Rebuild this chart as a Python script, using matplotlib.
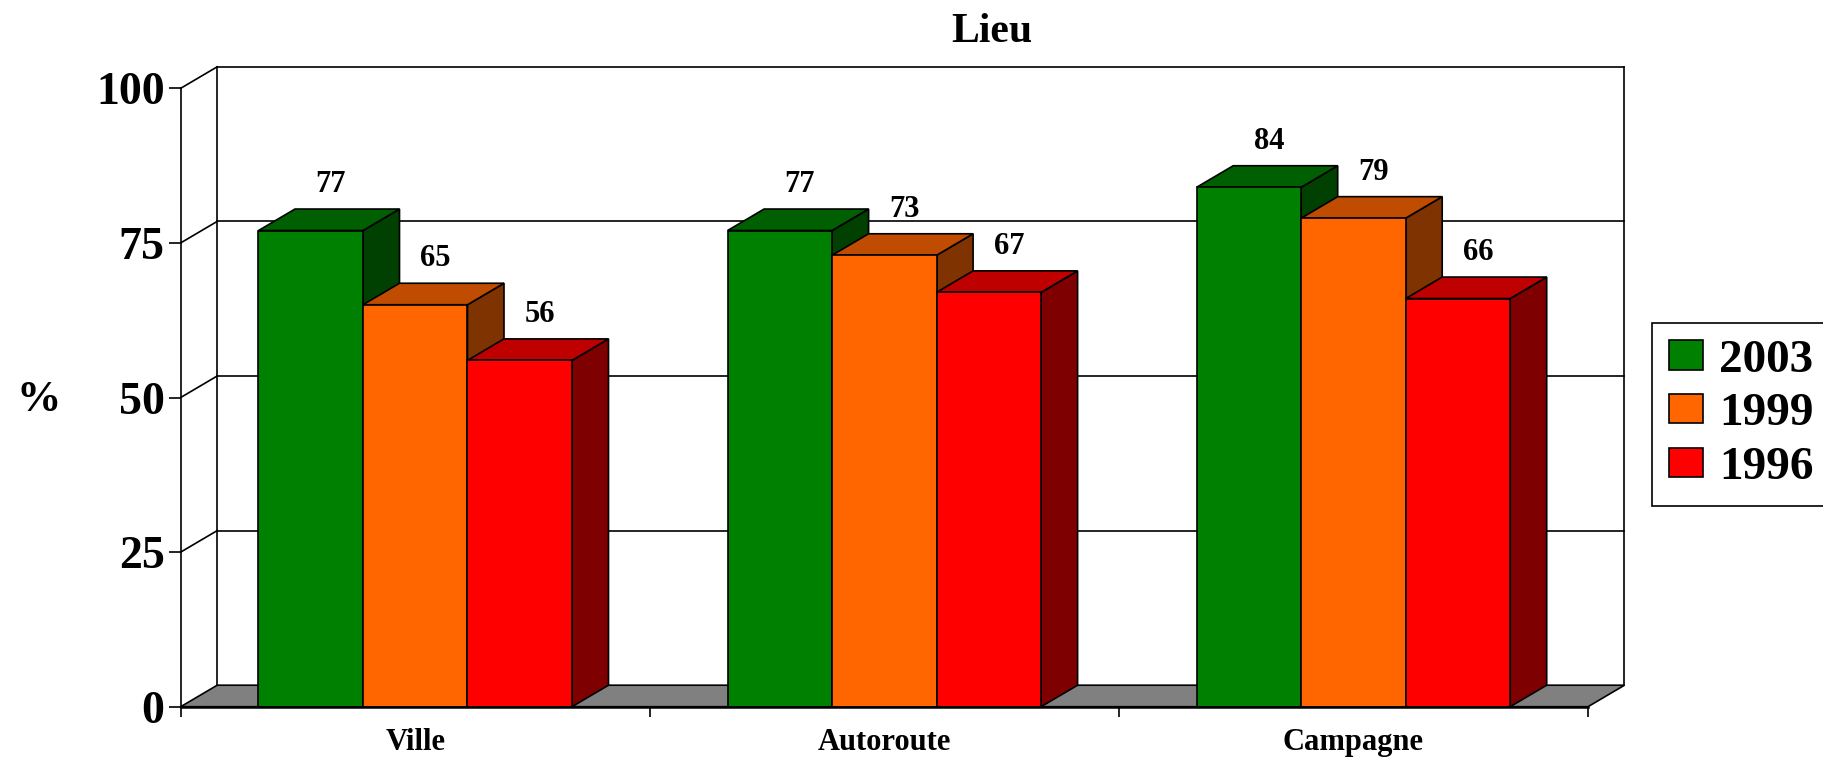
import numpy as np
import matplotlib
matplotlib.use("Agg")
import matplotlib.pyplot as plt
from matplotlib.patches import Polygon, Patch

plt.rcParams['font.family'] = ['Liberation Serif', 'DejaVu Serif']
plt.rcParams['font.weight'] = 'bold'

# donnees
lieux = ['Ville', 'Autoroute', 'Campagne']
annees = ['2003', '1999', '1996']
v2003 = [77, 77, 84]
v1999 = [65, 73, 79]
v1996 = [56, 67, 66]
yticks = [0, 25, 50, 75, 100]

series = [v2003, v1999, v1996]
# face avant, dessus, cote
couleurs = [('#008000', '#005f00', '#004000'),
            ('#ff6600', '#bf4c00', '#7f3300'),
            ('#ff0000', '#bf0000', '#7f0000')]

W, H = 1824, 757
fig = plt.figure(figsize=(W / 100, H / 100), dpi=100)
# plan avant: x 180.7..1588, y(0)=706.7, y(100)=88.3
ax = fig.add_axes([180.7 / W, (H - 706.7) / H, 1407.3 / W, 618.4 / H])
ax.set_xlim(0, 3)
ax.set_ylim(0, 100)
ax.patch.set_visible(False)

DX = 36.5 / (1407.3 / 3)   # profondeur en unites categories
DY = 21.5 / 6.184          # profondeur en unites %
ncat = len(lieux)
lw = 1.2

# mur du fond + plancher
for v in yticks[1:]:
    ax.plot([DX, ncat + DX], [v + DY, v + DY], color='k', lw=lw, zorder=0.5, clip_on=False)
    ax.plot([0, DX], [v, v + DY], color='k', lw=lw, zorder=0.5, clip_on=False)
ax.plot([DX, DX], [DY, 100 + DY], color='k', lw=lw, zorder=0.5, clip_on=False)
ax.plot([ncat + DX, ncat + DX], [DY, 100 + DY], color='k', lw=lw, zorder=0.5, clip_on=False)
ax.add_patch(Polygon([(0, 0), (ncat, 0), (ncat + DX, DY), (DX, DY)], closed=True,
                     fc='#808080', ec='k', lw=lw, zorder=1, clip_on=False))

# barres 3D
w = 104.5 / (1407.3 / 3)
start = (1 - 3 * w) / 2
z = 2
for i in range(ncat):
    for j, vals in enumerate(series):
        x0 = i + start + j * w
        h = vals[i]
        fc, tc, sc = couleurs[j]
        ax.add_patch(Polygon([(x0 + w, 0), (x0 + w + DX, DY), (x0 + w + DX, h + DY), (x0 + w, h)],
                             closed=True, fc=sc, ec='k', lw=lw, zorder=z, clip_on=False))
        ax.add_patch(Polygon([(x0, h), (x0 + w, h), (x0 + w + DX, h + DY), (x0 + DX, h + DY)],
                             closed=True, fc=tc, ec='k', lw=lw, zorder=z, clip_on=False))
        ax.bar(x0, h, width=w, align='edge', color=fc, edgecolor='k', linewidth=lw, zorder=z + 0.1)
        ax.text(x0 + w / 2 + 0.55 * DX, h + DY + 2.75, str(h), ha='center', va='baseline',
                fontsize=22, fontweight='bold', zorder=10)
        z += 0.2

# axes
for s in ['top', 'right']:
    ax.spines[s].set_visible(False)
ax.spines['left'].set_linewidth(lw)
ax.spines['bottom'].set_linewidth(1.8)
ax.spines['left'].set_zorder(5)
ax.spines['bottom'].set_zorder(5)

ax.set_yticks(yticks)
ax.set_yticklabels([str(t) for t in yticks])
ax.tick_params(axis='y', direction='out', length=8.6, width=lw, labelsize=33, pad=3)

ax.set_xticks(np.arange(ncat + 1))
ax.set_xticklabels([''] * (ncat + 1))
ax.set_xticks(np.arange(ncat) + 0.5, minor=True)
ax.set_xticklabels(lieux, minor=True, fontsize=22, fontweight='bold')
ax.tick_params(axis='x', which='major', direction='out', length=7, width=lw)
ax.tick_params(axis='x', which='minor', length=0, pad=15)

ax.set_ylabel('%', rotation=0, fontsize=32, fontweight='bold', va='center', ha='center')
ax.yaxis.set_label_coords(-0.1007, 0.496)

fig.text(992 / W, 1 - 31.5 / H, 'Lieu', ha='center', va='center', fontsize=30, fontweight='bold')

handles = [Patch(facecolor=c[0], edgecolor='k', linewidth=lw) for c in couleurs]
leg = fig.legend(handles, annees, loc='upper left', bbox_to_anchor=(1652 / W, 1 - 323 / H),
                 borderaxespad=0, fancybox=False, frameon=True, framealpha=1,
                 prop={'size': 34, 'weight': 'bold'}, handlelength=0.72, handleheight=0.58,
                 handletextpad=0.35, labelspacing=0.25, borderpad=0.35)
leg.get_frame().set_edgecolor('k')
leg.get_frame().set_linewidth(lw)

fig.savefig('out.png', dpi=100)
